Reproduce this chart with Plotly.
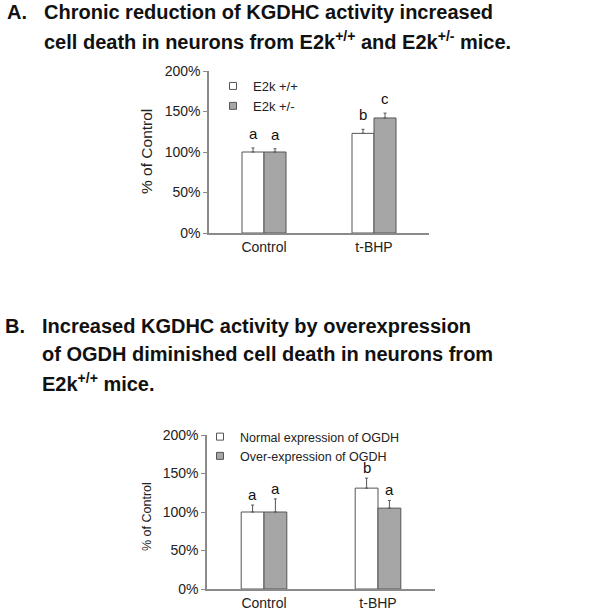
import plotly.graph_objects as go

# ---------------- data ----------------
categories = ["Control", "t-BHP"]

# Panel A
a_names = ["E2k +/+", "E2k +/-"]
a_wt = [100, 123]
a_wt_err = [5, 5]
a_het = [100, 142]
a_het_err = [4, 6]
a_wt_letters = ["a", "b"]
a_het_letters = ["a", "c"]

# Panel B
b_names = ["Normal expression of OGDH", "Over-expression of OGDH"]
b_norm = [100, 131]
b_norm_err = [9, 13]
b_over = [100, 105]
b_over_err = [17, 10]
b_norm_letters = ["a", "b"]
b_over_letters = ["a", "a"]

y_tickvals = [0, 50, 100, 150, 200]
y_ticktext = ["0%", "50%", "100%", "150%", "200%"]

title_a = ["Chronic reduction of KGDHC activity increased",
           "cell death in neurons from E2k<sup>+/+</sup> and E2k<sup>+/-</sup> mice."]
title_b = ["Increased KGDHC activity by overexpression",
           "of OGDH diminished cell death in neurons from",
           "E2k<sup>+/+</sup> mice."]

# ---------------- style ----------------
FONT = "Liberation Sans, Arial, sans-serif"
WHITE = "#ffffff"
GRAY = "#a6a6a6"
EDGE = "#555555"
AXIS = "#8a8a8a"
W, H = 604, 613

fig = go.Figure()

def add_pair(vals1, err1, vals2, err2, xa, ya):
    fig.add_trace(go.Bar(x=categories, y=vals1, xaxis=xa, yaxis=ya,
                         marker=dict(color=WHITE, line=dict(color=EDGE, width=1)),
                         error_y=dict(type="data", array=err1, symmetric=False,
                                      arrayminus=[0] * len(err1),
                                      color=EDGE, thickness=1, width=1.5),
                         showlegend=False))
    fig.add_trace(go.Bar(x=categories, y=vals2, xaxis=xa, yaxis=ya,
                         marker=dict(color=GRAY, line=dict(color=EDGE, width=1)),
                         error_y=dict(type="data", array=err2, symmetric=False,
                                      arrayminus=[0] * len(err2),
                                      color=EDGE, thickness=1, width=1.5),
                         showlegend=False))

def add_legend(names, legend_id):
    for name, col in zip(names, [WHITE, GRAY]):
        fig.add_trace(go.Scatter(x=[None], y=[None], mode="markers", name=name,
                                 marker=dict(symbol="square", size=7, color=col,
                                             line=dict(color=EDGE, width=1)),
                                 legend=legend_id, showlegend=True))

add_pair(a_wt, a_wt_err, a_het, a_het_err, "x", "y")
add_pair(b_norm, b_norm_err, b_over, b_over_err, "x2", "y2")
add_legend(a_names, "legend")
add_legend(b_names, "legend2")

def px_x(p):
    return p / W

def px_y(p):
    return 1 - p / H

annotations = []
# letters above bars
def letters(vals, errs, labs, offset, xr, yr, shift):
    for i, (v, e, t) in enumerate(zip(vals, errs, labs)):
        annotations.append(dict(x=i + offset, y=v + e, xref=xr, yref=yr, text=t,
                                showarrow=False, yanchor="bottom", yshift=shift,
                                font=dict(family=FONT, size=15, color="#111")))

letters(a_wt, a_wt_err, a_wt_letters, -0.1, "x", "y", 4)
letters(a_het, a_het_err, a_het_letters, 0.1, "x", "y", 4)
letters(b_norm, b_norm_err, b_norm_letters, -0.1, "x2", "y2", 0)
letters(b_over, b_over_err, b_over_letters, 0.1, "x2", "y2", 0)

# titles
tfont = dict(family=FONT, size=20, color="#111")
annotations.append(dict(x=px_x(5), y=px_y(12), xref="paper", yref="paper", text="<b>A.</b>",
                        xanchor="left", yanchor="middle", showarrow=False, font=tfont))
for k, line in enumerate(title_a):
    annotations.append(dict(x=px_x(42), y=px_y(12 + 28 * k), xref="paper", yref="paper",
                            text="<b>" + line + "</b>", xanchor="left", yanchor="middle",
                            showarrow=False, font=tfont))
annotations.append(dict(x=px_x(3), y=px_y(326), xref="paper", yref="paper", text="<b>B.</b>",
                        xanchor="left", yanchor="middle", showarrow=False, font=tfont))
for k, line in enumerate(title_b):
    annotations.append(dict(x=px_x(40), y=px_y(326 + 28 * k), xref="paper", yref="paper",
                            text="<b>" + line + "</b>", xanchor="left", yanchor="middle",
                            showarrow=False, font=tfont))

# y-axis titles
annotations.append(dict(x=px_x(147), y=px_y(152), xref="paper", yref="paper",
                        text="% of Control", textangle=-90, showarrow=False,
                        xanchor="center", yanchor="middle",
                        font=dict(family=FONT, size=15.5, color="#222")))
annotations.append(dict(x=px_x(147), y=px_y(517), xref="paper", yref="paper",
                        text="% of Control", textangle=-90, showarrow=False,
                        xanchor="center", yanchor="middle",
                        font=dict(family=FONT, size=12.5, color="#222")))

xaxis_common = dict(type="category", showline=True, linecolor=AXIS, linewidth=1.5,
                    ticks="", showgrid=False, zeroline=False,
                    tickfont=dict(family=FONT, size=14, color="#222"))
yaxis_common = dict(range=[0, 200], tickvals=y_tickvals, ticktext=y_ticktext,
                    showline=True, linecolor=AXIS, linewidth=1.5, ticks="outside",
                    ticklen=4, tickcolor=AXIS, showgrid=False, zeroline=False,
                    tickfont=dict(family=FONT, size=14, color="#222"))

fig.update_layout(
    width=W, height=H, margin=dict(l=0, r=0, t=0, b=0, autoexpand=False),
    paper_bgcolor="white", plot_bgcolor="white",
    barmode="group", bargap=0.6, bargroupgap=0,
    xaxis=dict(domain=[px_x(209), px_x(429)], anchor="y", **xaxis_common),
    yaxis=dict(domain=[px_y(233), px_y(71)], anchor="x", **yaxis_common),
    xaxis2=dict(domain=[px_x(207), px_x(435)], anchor="y2", **xaxis_common),
    yaxis2=dict(domain=[px_y(589), px_y(435)], anchor="x2", **yaxis_common),
    legend=dict(x=px_x(213), y=px_y(71), xanchor="left", yanchor="top",
                bgcolor="rgba(0,0,0,0)", itemwidth=30, tracegroupgap=0,
                font=dict(family=FONT, size=13, color="#222")),
    legend2=dict(x=px_x(200), y=px_y(422), xanchor="left", yanchor="top",
                 bgcolor="rgba(0,0,0,0)", itemwidth=30, tracegroupgap=0,
                 font=dict(family=FONT, size=12.5, color="#222")),
    annotations=annotations,
    showlegend=True,
)

fig.write_html("out.html", config={"displayModeBar": False},
               post_script="document.body.style.margin='0';document.body.style.overflow='hidden';")
